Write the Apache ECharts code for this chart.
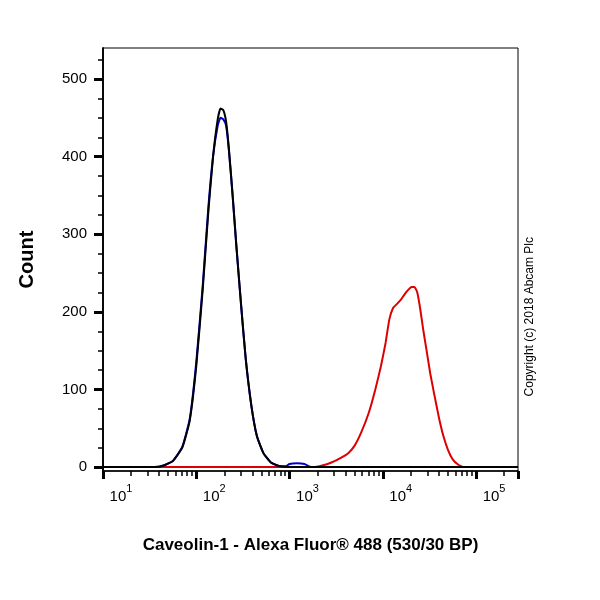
<!DOCTYPE html>
<html><head><meta charset="utf-8">
<script src="https://cdn.jsdelivr.net/npm/echarts@6/dist/echarts.min.js"></script>
<style>html,body{margin:0;background:#fff}#c{width:600px;height:600px}</style>
</head><body><div id="c"></div>
<script>
// x values are read as decades (log10 of intensity)
var blackX = [1.0, 1.55, 1.65, 1.75, 1.85, 1.93, 2.0, 2.07, 2.13, 2.18, 2.23, 2.26, 2.29, 2.32, 2.35, 2.39, 2.43, 2.48, 2.53, 2.59, 2.65, 2.72, 2.8, 2.9, 3.0, 5.45];
var blackY = [0, 0, 2, 8, 25, 60, 130, 230, 330, 400, 448, 462, 460, 445, 410, 350, 285, 210, 140, 80, 40, 18, 6, 1, 0, 0];
var blueX = [1.0, 1.55, 1.65, 1.75, 1.85, 1.93, 2.0, 2.07, 2.13, 2.18, 2.23, 2.26, 2.29, 2.32, 2.35, 2.39, 2.43, 2.48, 2.53, 2.59, 2.65, 2.72, 2.8, 2.9, 2.96, 3.0, 3.08, 3.16, 3.21, 3.25, 5.45];
var blueY = [0, 0, 2, 8, 26, 62, 135, 235, 335, 400, 440, 450, 448, 440, 408, 350, 285, 210, 140, 80, 40, 18, 6, 1, 1, 4, 5, 4, 1, 0, 0];
var redX = [1.0, 3.25, 3.35, 3.45, 3.55, 3.63, 3.7, 3.77, 3.85, 3.92, 3.98, 4.03, 4.07, 4.11, 4.15, 4.19, 4.23, 4.27, 4.31, 4.34, 4.37, 4.4, 4.43, 4.47, 4.51, 4.55, 4.6, 4.65, 4.7, 4.75, 4.81, 4.87, 5.45];
var redY = [0, 0, 2, 6, 12, 18, 28, 45, 70, 100, 130, 160, 190, 205, 210, 215, 222, 228, 232, 232, 225, 205, 180, 150, 120, 95, 65, 40, 22, 10, 3, 0, 0];
var xTicks = [1, 2, 3, 4, 5];
var yTicks = [0, 100, 200, 300, 400, 500];
var yMinor = [25, 50, 75, 125, 150, 175, 225, 250, 275, 325, 350, 375, 425, 450, 475, 525];

function pts(xs, ys) {
  return xs.map(function (x, i) { return [Math.pow(10, x), ys[i]]; });
}
function line(color, xs, ys) {
  return {type: 'line', data: pts(xs, ys), showSymbol: false, smooth: 0.15,
    lineStyle: {color: color, width: 2}, z: color === '#000' ? 5 : 3};
}

var yBase = {
  type: 'value', min: -5, max: 540,
  axisLine: {show: true, lineStyle: {color: '#000', width: 1.5}},
  splitLine: {show: false}
};

var chart = echarts.init(document.getElementById('c'));
chart.setOption({
  animation: false,
  grid: {left: 103, right: 82, top: 48, bottom: 129},
  xAxis: {
    type: 'log', logBase: 10, min: 10, max: Math.pow(10, 5.45),
    axisLine: {onZero: false, lineStyle: {color: '#000', width: 1.5}},
    axisTick: {length: 8, lineStyle: {color: '#000', width: 3}},
    minorTick: {show: true, splitNumber: 9, length: 5, lineStyle: {color: '#000', width: 1.5}},
    splitLine: {show: false},
    axisLabel: {
      margin: 12, color: '#000', fontFamily: 'Arial', showMaxLabel: false,
      formatter: function (v) {
        var e = Math.round(Math.log10(v));
        return xTicks.indexOf(e) >= 0 && Math.abs(Math.log10(v) - e) < 0.01 ? '{b|10}{s|' + e + '}' : '';
      },
      rich: {b: {fontSize: 15, padding: [0, 0, 0, 36], verticalAlign: 'bottom'}, s: {fontSize: 11, padding: [0, 0, 10, 0]}}
    },
    name: 'Caveolin-1 - Alexa Fluor® 488 (530/30 BP)', nameLocation: 'middle', nameGap: 66,
    nameTextStyle: {fontSize: 17, fontWeight: 'bold', color: '#000', fontFamily: 'Arial'}
  },
  yAxis: [Object.assign({}, yBase, {
    axisTick: {show: true, length: 9, lineStyle: {color: '#000', width: 3}, customValues: yTicks},
    axisLabel: {color: '#000', fontSize: 15, fontFamily: 'Arial', margin: 16, customValues: yTicks},
    name: 'Count', nameLocation: 'middle', nameGap: 66, nameRotate: 90,
    nameTextStyle: {fontSize: 20, fontWeight: 'bold', color: '#000', fontFamily: 'Arial'}
  }), Object.assign({}, yBase, {
    position: 'left',
    axisTick: {show: true, length: 5, lineStyle: {color: '#000', width: 1.5}, customValues: yMinor},
    axisLabel: {show: false}
  })],
  graphic: [{type: 'text', left: 524, top: 237, rotation: Math.PI / 2,
    style: {text: 'Copyright (c) 2018 Abcam Plc', fontSize: 12, fill: '#000', fontFamily: 'Arial'}},
    {type: 'rect', shape: {x: 103, y: 48, width: 415, height: 423}, style: {fill: 'none', stroke: '#000', lineWidth: 1}, silent: true}],
  series: [line('#d00', redX, redY), line('#00c', blueX, blueY), line('#000', blackX, blackY)]
});
</script></body></html>
